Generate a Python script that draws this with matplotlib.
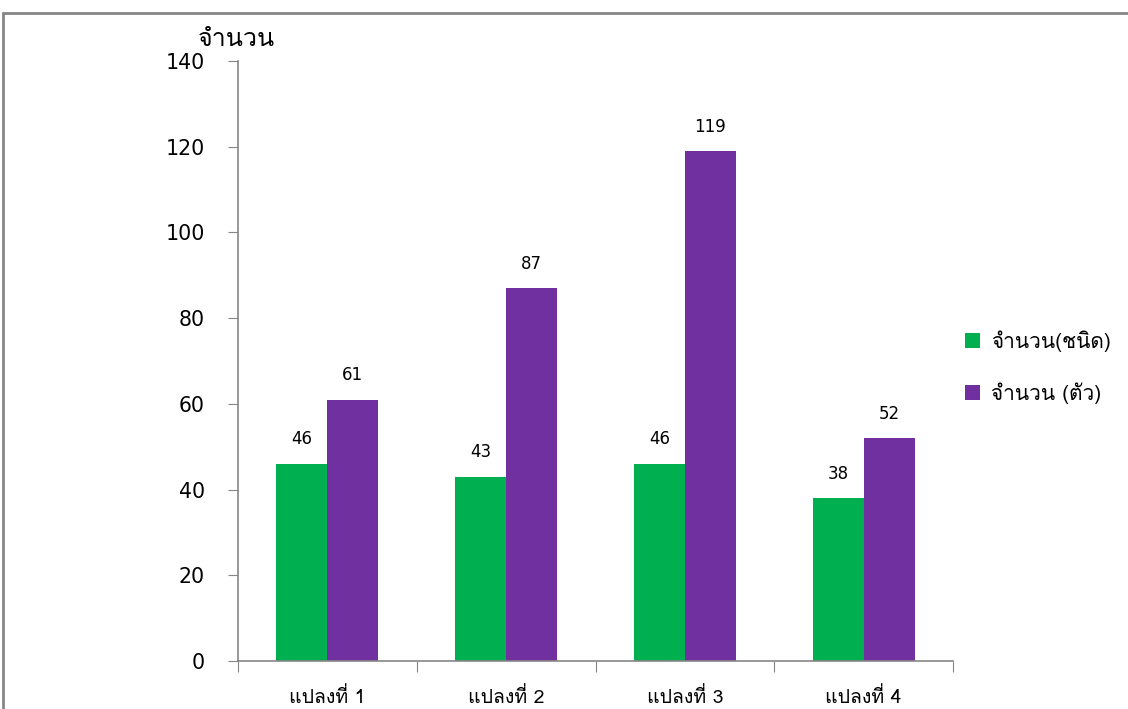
import matplotlib
matplotlib.use('Agg')
import matplotlib.pyplot as plt
from matplotlib import font_manager
from matplotlib.ft2font import FT2Font
from matplotlib.patches import Rectangle
import numpy as np

# ข้อมูล
categories = ['แปลงที่ 1', 'แปลงที่ 2', 'แปลงที่ 3', 'แปลงที่ 4']
species_count = [46, 43, 46, 38]      # จำนวน(ชนิด)
individual_count = [61, 87, 119, 52]  # จำนวน (ตัว)
series_labels = ['จำนวน(ชนิด)', 'จำนวน (ตัว)']
yticks = [0, 20, 40, 60, 80, 100, 120, 140]


def find_thai_font():
    # หาฟอนต์ที่มีอักษรไทย
    for f in font_manager.fontManager.ttflist:
        try:
            cmap = FT2Font(f.fname).get_charmap()
        except Exception:
            continue
        if 0x0E08 in cmap and 0x0E33 in cmap:
            return f.name
    return None


thai = find_thai_font()
fam = [thai, 'DejaVu Sans'] if thai else ['DejaVu Sans']
plt.rcParams['font.family'] = fam

fig = plt.figure(figsize=(11.28, 7.09), dpi=100)
ax = fig.add_axes([238 / 1128, 48 / 709, 715 / 1128, 600 / 709])

# กรอบรอบพื้นที่แผนภูมิ
fig.patches.append(Rectangle((3 / 1128, -0.1), 1.2, (709 - 13) / 709 + 0.1,
                             transform=fig.transFigure, fill=False,
                             edgecolor='#868686', lw=2.0, zorder=0))

x = np.arange(len(categories))
w = 0.285
green = '#00B050'
purple = '#7030A0'
b1 = ax.bar(x - w / 2, species_count, w, color=green, label=series_labels[0])
b2 = ax.bar(x + w / 2, individual_count, w, color=purple, label=series_labels[1])

for bars, vals in ((b1, species_count), (b2, individual_count)):
    for r, v in zip(bars, vals):
        ax.text(r.get_x() + r.get_width() / 2, v + 3.6, str(v),
                ha='center', va='bottom', fontsize=12, family='DejaVu Sans')

ax.set_xlim(-0.5, len(categories) - 0.5)
ax.set_ylim(0, 140)
ax.set_yticks(yticks)
ax.set_yticklabels([str(t) for t in yticks], family='DejaVu Sans')
ax.tick_params(axis='y', labelsize=14.8, length=7, color='#868686', direction='out', pad=17)

# ขีดแกน x อยู่ระหว่างกลุ่ม
ax.set_xticks(np.arange(len(categories) + 1) - 0.5)
ax.set_xticklabels([])
ax.set_xticks(x, minor=True)
ax.set_xticklabels(categories, minor=True, fontsize=14)
ax.tick_params(axis='x', which='major', length=8, color='#868686')
ax.tick_params(axis='x', which='minor', length=0, pad=19)

for s in ('top', 'right'):
    ax.spines[s].set_visible(False)
for s in ('left', 'bottom'):
    ax.spines[s].set_color('#868686')
    ax.spines[s].set_linewidth(1.2)

fig.text(198 / 1128, 1 - 40 / 709, 'จำนวน', fontsize=18, ha='left', va='center')

ax.legend(loc='center left', bbox_to_anchor=(0.99, 0.49), frameon=False,
          fontsize=15, handlelength=0.75, handleheight=0.75, labelspacing=1.45,
          handletextpad=0.5)

fig.savefig('out.png', dpi=100)
